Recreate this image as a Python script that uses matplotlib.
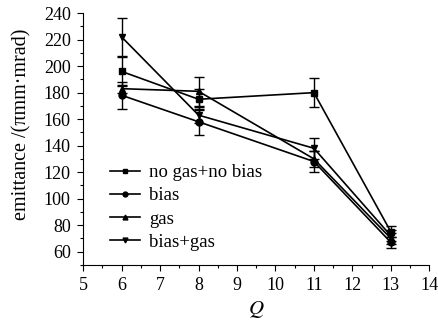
import numpy as np
import matplotlib.pyplot as plt
from matplotlib.ticker import MultipleLocator
from matplotlib.lines import Line2D

plt.rcParams['font.family'] = ['Liberation Serif', 'DejaVu Serif']
plt.rcParams['mathtext.fontset'] = 'stix'

# data
Q = [6, 8, 11, 13]
labels = ['no gas+no bias', 'bias', 'gas', 'bias+gas']
markers = ['s', 'o', '^', 'v']
no_gas_no_bias = [196, 175, 180, 75]
bias = [178, 158, 128, 67]
gas = [183, 181, 130, 70]
bias_gas = [222, 163, 138, 72]
err_no_gas_no_bias = [11, 8, 11, 4]
err_bias = [10, 10, 8, 4]
err_gas = [3, 11, 6, 4]
err_bias_gas = [14, 6, 8, 4]

series = [no_gas_no_bias, bias, gas, bias_gas]
errs = [err_no_gas_no_bias, err_bias, err_gas, err_bias_gas]

fig = plt.figure(figsize=(4.38, 3.29), dpi=100)
ax = fig.add_axes([0.19, 0.195, 0.79, 0.765])

for vals, e, m in zip(series, errs, markers):
    ax.errorbar(Q, vals, yerr=e, color='black', marker=m, markersize=5,
                linewidth=1.2, elinewidth=1.0, capsize=3.5, capthick=1.0)

ax.set_xlim(5, 14)
ax.set_ylim(50, 240)
ax.xaxis.set_major_locator(MultipleLocator(1))
ax.xaxis.set_minor_locator(MultipleLocator(0.5))
ax.yaxis.set_major_locator(MultipleLocator(20))
ax.yaxis.set_minor_locator(MultipleLocator(10))
ax.set_yticks(np.arange(60, 241, 20))
ax.tick_params(which='major', direction='out', length=4, width=0.8, labelsize=13, pad=5)
ax.tick_params(which='minor', direction='out', length=2.5, width=0.8)
ax.spines['top'].set_visible(False)
ax.spines['right'].set_visible(False)

ax.set_xlabel('$Q$', fontsize=15, labelpad=3)
ax.set_ylabel('emittance /(πmm·mrad)', fontsize=14.5)
ax.yaxis.set_label_coords(-0.15, 0.56)

handles = [Line2D([], [], color='black', marker=m, markersize=3.5, linewidth=1.2)
           for m in markers]
ax.legend(handles, labels, loc='lower left', bbox_to_anchor=(0.055, 0.025), frameon=False,
          fontsize=13.5, handlelength=1.6, handletextpad=0.5,
          labelspacing=0.33, borderaxespad=0)

fig.savefig('out.png', dpi=100)
